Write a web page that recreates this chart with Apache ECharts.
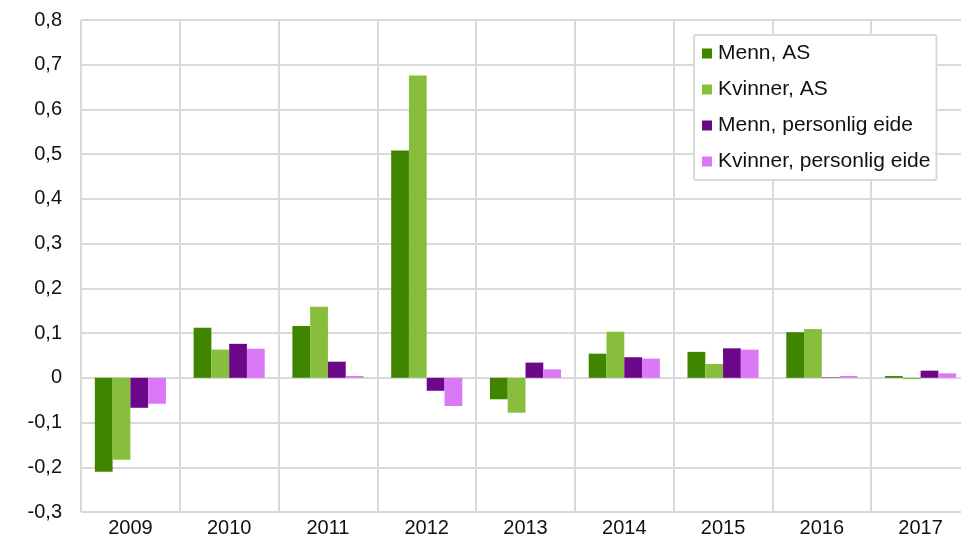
<!DOCTYPE html>
<html>
<head>
<meta charset="utf-8">
<script src="https://cdn.jsdelivr.net/npm/echarts@6/dist/echarts.min.js"></script>
<style>
html,body{margin:0;padding:0;background:#fff;}
#chart{width:961px;height:538px;}
</style>
</head>
<body>
<div id="chart"></div>
<script>
var categories = ['2009','2010','2011','2012','2013','2014','2015','2016','2017'];
var seriesNames = ['Menn, AS','Kvinner, AS','Menn, personlig eide','Kvinner, personlig eide'];
var mennAS = [-0.210, 0.112, 0.116, 0.508, -0.048, 0.054, 0.058, 0.102, 0.004];
var kvinnerAS = [-0.183, 0.063, 0.159, 0.676, -0.078, 0.103, 0.031, 0.109, -0.003];
var mennPersonlig = [-0.067, 0.076, 0.036, -0.029, 0.034, 0.046, 0.066, 0.001, 0.016];
var kvinnerPersonlig = [-0.058, 0.065, 0.004, -0.063, 0.019, 0.043, 0.063, 0.004, 0.010];
var colors = ['#3f8500','#87be3c','#6b0889','#da78f6'];

var chart = echarts.init(document.getElementById('chart'));
var allData = [mennAS, kvinnerAS, mennPersonlig, kvinnerPersonlig];
var series = allData.map(function(d, i){
  return {
    name: seriesNames[i],
    type: 'bar',
    data: d,
    barGap: '0%',
    barCategoryGap: '28%',
    itemStyle: {color: colors[i]},
    emphasis: {disabled: true}
  };
});
chart.setOption({
  animation: false,
  color: colors,
  textStyle: {fontFamily: 'Liberation Sans, Arial, sans-serif'},
  grid: {left: 81, right: -9, top: 20, bottom: 26, containLabel: false, outerBoundsMode: 'none'},
  legend: {
    orient: 'vertical',
    left: 694,
    top: 35,
    padding: [8, 6, 8, 8],
    itemWidth: 10,
    itemHeight: 10,
    itemGap: 15,
    icon: 'rect',
    backgroundColor: '#fff',
    borderColor: '#d9d9d9',
    borderWidth: 2,
    borderRadius: 2,
    textStyle: {fontSize: 21, color: '#111', fontFamily: 'Liberation Sans, Arial, sans-serif', padding: [0,0,0,1]},
    data: seriesNames
  },
  xAxis: {
    type: 'category',
    data: categories,
    axisLine: {show: false},
    axisTick: {show: false},
    splitLine: {show: true, lineStyle: {color: '#d9d9d9', width: 2}},
    axisLabel: {fontSize: 20, color: '#111', margin: 6}
  },
  yAxis: {
    type: 'value',
    min: -0.3,
    max: 0.8,
    interval: 0.1,
    axisLine: {show: false},
    axisTick: {show: false},
    splitLine: {show: true, lineStyle: {color: '#d9d9d9', width: 2}},
    axisLabel: {
      fontSize: 20, color: '#111', margin: 19,
      formatter: function(v){
        var r = Math.round(v*10)/10;
        if (r === 0) return '0';
        return r.toFixed(1).replace('.', ',');
      }
    }
  },
  series: series
});
</script>
</body>
</html>
